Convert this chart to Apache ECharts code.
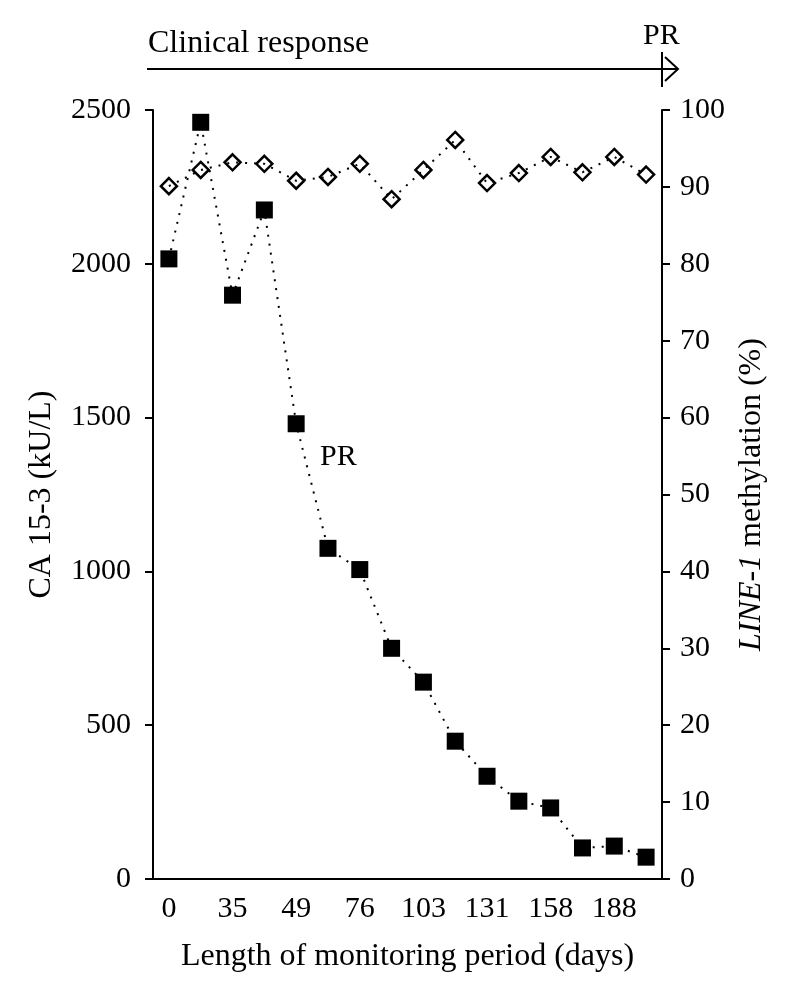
<!DOCTYPE html>
<html>
<head>
<meta charset="utf-8">
<script src="https://cdn.jsdelivr.net/npm/echarts@6/dist/echarts.min.js"></script>
<style>
html,body{margin:0;padding:0;background:#fff;}
#chart{width:788px;height:990px;}
</style>
</head>
<body>
<div id="chart"></div>
<script>
// Data
var dayLabels = ['0','','35','','49','','76','','103','','131','','158','','188',''];
var ca153 = [2016, 2460, 1898, 2175, 1480, 1075, 1006, 750, 640, 448, 334, 253, 231, 101, 107, 71];
var line1Methylation = [90.1, 92.2, 93.2, 93.0, 90.8, 91.3, 93.0, 88.4, 92.2, 96.1, 90.5, 91.8, 93.9, 91.9, 93.9, 91.6];
var leftTicks = [0, 500, 1000, 1500, 2000, 2500];
var rightTicks = [0, 10, 20, 30, 40, 50, 60, 70, 80, 90, 100];

var FONT = '"Liberation Serif", "DejaVu Serif", serif';
var chart = echarts.init(document.getElementById('chart'), null, {renderer: 'canvas'});

var option = {
  backgroundColor: '#fff',
  animation: false,
  grid: {left: 153, right: 126, top: 110, bottom: 111, containLabel: false},
  xAxis: {
    type: 'category',
    data: dayLabels,
    boundaryGap: true,
    axisLine: {lineStyle: {color: '#000', width: 2}},
    axisTick: {show: false},
    axisLabel: {interval: 0, color: '#000', fontFamily: FONT, fontSize: 30, margin: 15},
    name: 'Length of monitoring period (days)',
    nameLocation: 'middle',
    nameGap: 62,
    nameTextStyle: {color: '#000', fontFamily: FONT, fontSize: 32}
  },
  yAxis: [
    {
      type: 'value',
      position: 'left',
      min: leftTicks[0], max: leftTicks[leftTicks.length - 1], interval: 500,
      axisLine: {show: true, lineStyle: {color: '#000', width: 2}},
      axisTick: {show: true, length: 8, lineStyle: {color: '#000', width: 2}},
      splitLine: {show: false},
      axisLabel: {color: '#000', fontFamily: FONT, fontSize: 30, margin: 22,
        formatter: function (v) { return String(v); }},
      name: 'CA 15-3 (kU/L)',
      nameLocation: 'middle',
      nameGap: 95,
      nameTextStyle: {color: '#000', fontFamily: FONT, fontSize: 32}
    },
    {
      type: 'value',
      position: 'right',
      min: rightTicks[0], max: rightTicks[rightTicks.length - 1], interval: 10,
      axisLine: {show: true, lineStyle: {color: '#000', width: 2}},
      axisTick: {show: true, length: 8, lineStyle: {color: '#000', width: 2}},
      splitLine: {show: false},
      axisLabel: {color: '#000', fontFamily: FONT, fontSize: 30, margin: 18,
        formatter: function (v) { return String(v); }},
      name: '{i|LINE-1} methylation (%)',
      nameLocation: 'middle',
      nameGap: 70,
      nameTextStyle: {
        color: '#000', fontFamily: FONT, fontSize: 32,
        rich: {i: {fontStyle: 'italic', fontFamily: FONT, fontSize: 32, color: '#000'}}
      }
    }
  ],
  series: [
    {
      name: 'LINE-1',
      type: 'line',
      yAxisIndex: 1,
      data: line1Methylation,
      symbol: 'diamond',
      symbolSize: 16,
      z: 3,
      lineStyle: {color: '#000', width: 2, type: [2, 7]},
      itemStyle: {color: 'rgba(255,255,255,0)', borderColor: '#000', borderWidth: 2.5}
    },
    {
      name: 'CA 15-3',
      type: 'line',
      yAxisIndex: 0,
      data: ca153,
      symbol: 'rect',
      symbolSize: 17,
      z: 4,
      lineStyle: {color: '#000', width: 2, type: [2, 7]},
      itemStyle: {color: '#000', borderWidth: 0}
    }
  ],
  graphic: [
    {type: 'text', left: 148, top: 28, style: {text: 'Clinical response', fill: '#000', font: '32px ' + FONT}},
    {type: 'line', shape: {x1: 147, y1: 69, x2: 678, y2: 69}, style: {stroke: '#000', lineWidth: 2}},
    {type: 'polyline', shape: {points: [[665, 57], [678, 69], [665, 81]]}, style: {stroke: '#000', lineWidth: 2, fill: null}},
    {type: 'line', shape: {x1: 662, y1: 52, x2: 662, y2: 87}, style: {stroke: '#000', lineWidth: 2}},
    {type: 'text', left: 643, top: 21, style: {text: 'PR', fill: '#000', font: '30px ' + FONT}},
    {type: 'text', left: 320, top: 442, style: {text: 'PR', fill: '#000', font: '30px ' + FONT}},
    {type: 'line', shape: {x1: 147, y1: 879, x2: 669, y2: 879}, style: {stroke: '#000', lineWidth: 2}}
  ]
};
chart.setOption(option);
</script>
</body>
</html>
